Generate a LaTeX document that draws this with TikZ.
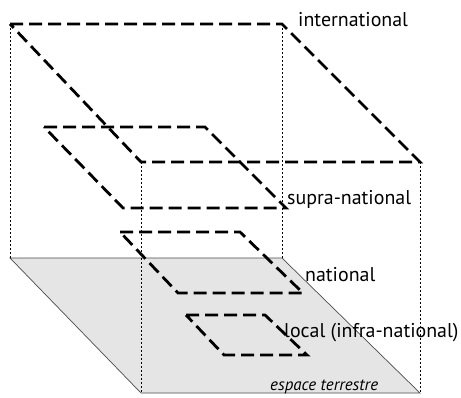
\documentclass[tikz,border=0pt]{standalone}
\usepackage{fontspec}
\setmainfont{PT Sans}
\usepackage{tikz}
\usetikzlibrary{positioning,calc}

\begin{document}
\begin{tikzpicture}[
x=1bp,
y=-1bp,
level/.style={
  draw=black,
  line width=2.8bp,
  dash pattern=on 13bp off 6bp,
  line join=miter
  },
guide/.style={
  draw=black,
  line width=0.9bp,
  dash pattern=on 2bp off 2bp
  },
ground/.style={
  fill=black!10,
  draw=black!70,
  line width=0.7bp
  },
lbl/.style={
  font=\fontsize{20}{22}\selectfont,
  inner sep=0pt
  }
]
\useasboundingbox (0,0) rectangle (461,397);
% espace terrestre
\coordinate (g1) at (10,258);
\coordinate (g2) at (282,258);
\coordinate (g3) at (420,393);
\coordinate (g4) at (141,393);
\path[ground] (g1) -- (g2) -- (g3) -- (g4) -- cycle;
\node[lbl,anchor=base west,font=\fontsize{17}{19}\selectfont\itshape] (terre) at (270,390) {espace terrestre};
% international
\coordinate (i1) at (10,24);
\coordinate (i2) at (282,24);
\coordinate (i3) at (420,162);
\coordinate (i4) at (141,162);
\foreach \a/\b in {i1/g1,i2/g2,i3/g3,i4/g4}
  \draw[guide] (\a) -- (\b);
\draw[level] (i1) -- (i2) -- (i3) -- (i4) -- cycle;
\node[lbl,anchor=base west] (inter) at (298,26) {international};
% supra-national
\coordinate (s1) at (44,127);
\coordinate (s2) at (205,127);
\coordinate (s3) at (286,208);
\coordinate (s4) at (123,208);
\draw[level] (s1) -- (s2) -- (s3) -- (s4) -- cycle;
\node[lbl,anchor=base west] (supra) at (287,204) {supra-national};
% national
\coordinate (n1) at (120,232);
\coordinate (n2) at (240,232);
\coordinate (n3) at (303,293);
\coordinate (n4) at (178,293);
\draw[level] (n1) -- (n2) -- (n3) -- (n4) -- cycle;
\node[lbl,anchor=base west] (nat) at (305,281) {national};
% local
\coordinate (l1) at (186,315);
\coordinate (l2) at (265,315);
\coordinate (l3) at (307,355);
\coordinate (l4) at (224,355);
\draw[level] (l1) -- (l2) -- (l3) -- (l4) -- cycle;
\node[lbl,anchor=base west] (loc) at (284,337) {local (infra-national)};
\end{tikzpicture}
\end{document}
